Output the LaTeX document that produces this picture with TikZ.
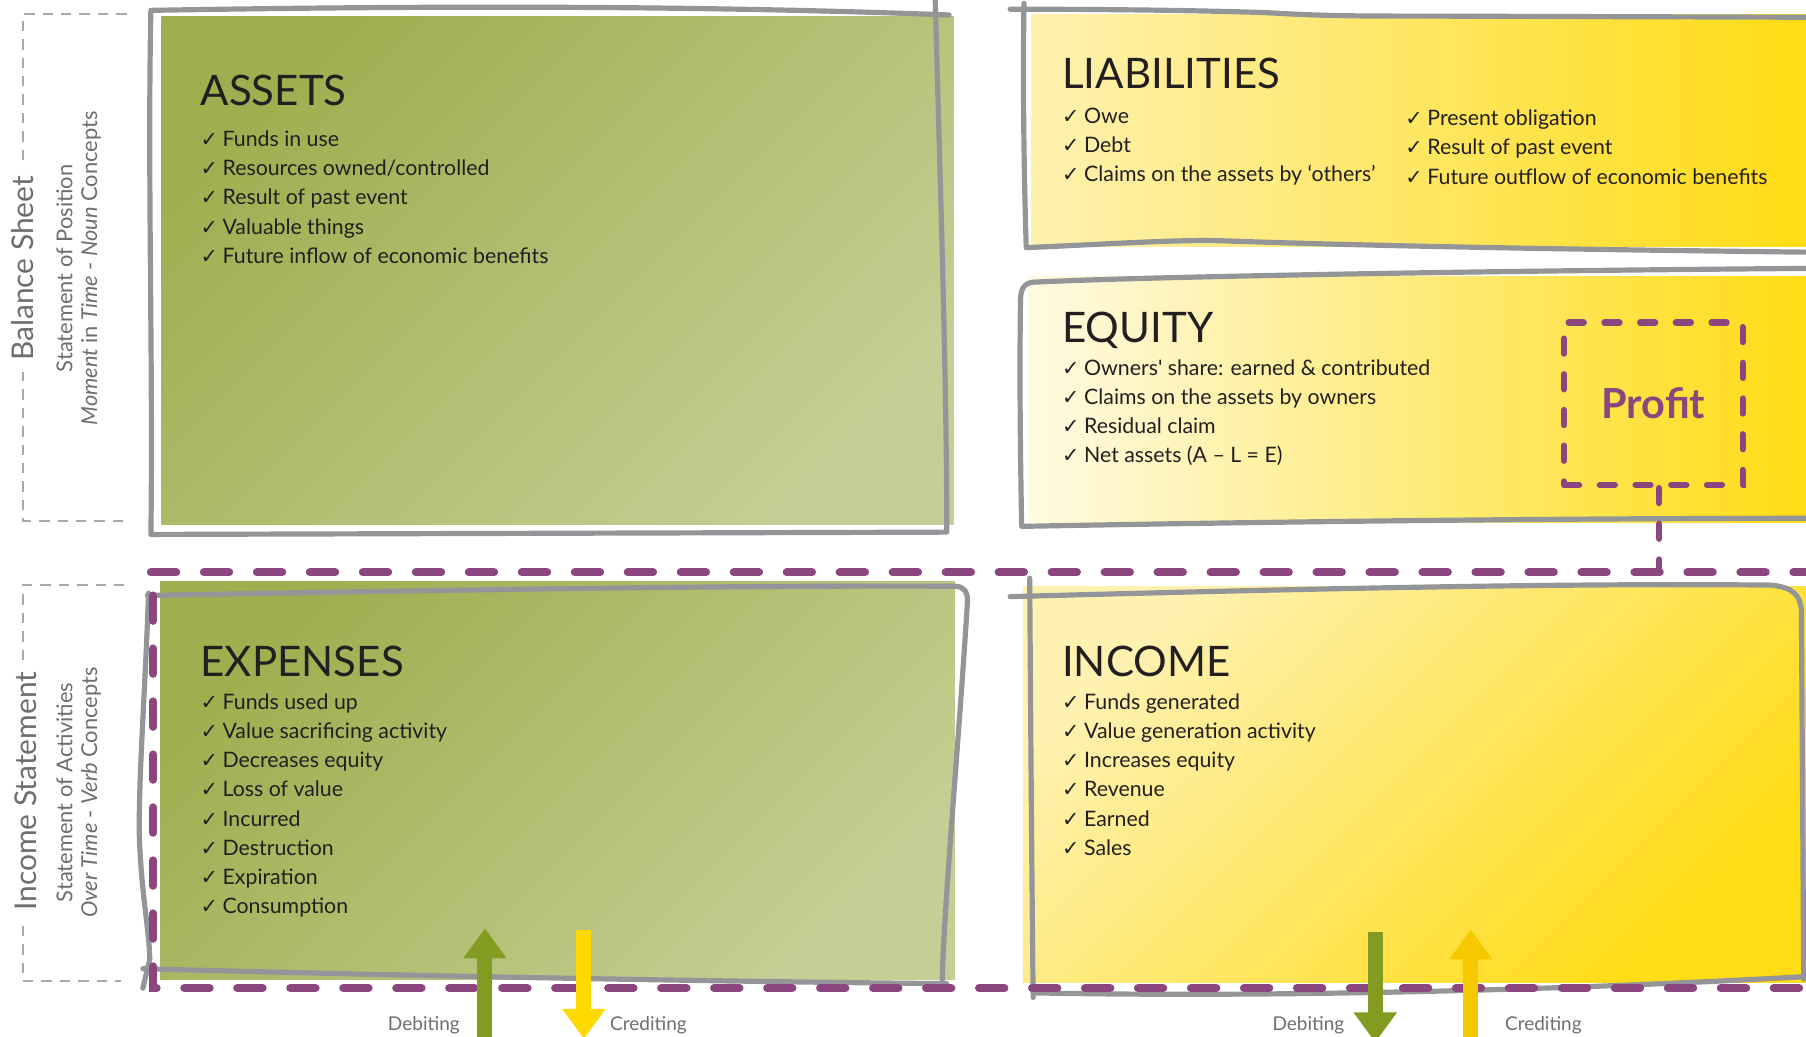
\documentclass[tikz,border=0pt]{standalone}
\usepackage{fontspec}
\setmainfont{Lato}
\newfontfamily\symfont{DejaVu Sans}
\usetikzlibrary{arrows.meta}
\definecolor{bordergray}{HTML}{939598}
\definecolor{labelgray}{HTML}{6D6E71}
\definecolor{dashgray}{HTML}{A7A9AC}
\definecolor{plum}{HTML}{8B4680}
\definecolor{inkdark}{HTML}{231F20}
\definecolor{olivedk}{HTML}{9FAF50}
\definecolor{olivelt}{HTML}{C5CE94}
\definecolor{yellowlt}{HTML}{FFF1B0}
\definecolor{yellowdk}{HTML}{FFDC14}
\definecolor{paleyellow}{HTML}{FFFAE3}
\definecolor{arrgreen}{HTML}{849B22}
\definecolor{arryellow}{HTML}{FFDA00}
\definecolor{arrgold}{HTML}{F5C800}

\newcommand{\tick}{{\symfont\fontsize{18}{18}\selectfont ✓}\hspace{4pt}}

\begin{document}
\begin{tikzpicture}[
  x=1pt, y=-1pt,
  sketch/.style={draw=bordergray, line width=4.5pt, line cap=round, line join=round},
  bracket/.style={draw=dashgray, line width=1.8pt, dash pattern=on 9pt off 7pt},
  sidehead/.style={rotate=90, fill=white, text=labelgray,
    font=\fontsize{26}{26}\selectfont, inner xsep=10pt, inner ysep=2pt},
  sidesub/.style={rotate=90, text=labelgray, font=\fontsize{19}{19}\selectfont, inner sep=0pt},
  boxtitle/.style={anchor=base west, inner sep=0pt, text=inkdark,
    font=\fontsize{36.5}{37}\selectfont},
  item/.style={anchor=base west, inner sep=0pt, text=inkdark,
    font=\fontsize{18.5}{22}\selectfont},
  plumline/.style={draw=plum, line width=7pt, line cap=round, dash pattern=on 22pt off 24pt},
  plumbox/.style={draw=plum, line width=5.5pt, line cap=round, dash pattern=on 13pt off 18pt},
  flow/.style={line width=13pt, -{Triangle[length=26pt, width=36pt]}},
  flowlbl/.style={text=labelgray, font=\fontsize{16.5}{17}\selectfont},
]
\useasboundingbox (0,0) rectangle (1568,900);

% =============================================
% Side brackets
% =============================================
\draw[bracket] (110,12) -- (20,12) -- (20,452) -- (110,452);
\draw[bracket] (108,508) -- (20,508) -- (20,852) -- (105,852);

\node[sidehead] (bs-head) at (20,233) {Balance Sheet};
\node[sidesub] (bs-sub) at (56,233) {Statement of Position};
\node[sidesub] (bs-note) at (79,233)
  {\itshape Moment \upshape in \itshape Time \upshape - \itshape Noun \upshape Concepts};

\node[sidehead] (is-head) at (22,687) {Income Statement};
\node[sidesub] (is-sub) at (56,688) {Statement of Activities};
\node[sidesub] (is-note) at (79,688)
  {\itshape Over Time \upshape - \itshape Verb \upshape Concepts};

% =============================================
% Assets
% =============================================
\shade[top color=olivedk, bottom color=olivelt, shading angle=45] (140,14) rectangle (828,455);
\draw[sketch] (812,0) .. controls (816,150) and (822,330) .. (822,462)
  -- (131,464) .. controls (133,320) and (128,150) .. (131,9)
  .. controls (420,4) and (640,6) .. (824,13);

\node[boxtitle] (assets-title) at (174,92) {ASSETS};
\foreach \txt [count=\i] in {Funds in use, Resources owned/controlled,
    Result of past event, Valuable things, Future inflow of economic benefits}
  \node[item] (asset-\i) at (174,101.6+25.4*\i) {\tick\txt};

% =============================================
% Liabilities
% =============================================
\shade[left color=yellowlt, right color=yellowdk] (895,13) rectangle (1568,214);
\draw[sketch] (877,8) .. controls (960,8) and (1040,9) .. (1100,11)
  .. controls (1150,14) and (1180,14) .. (1250,14) -- (1575,15);
\draw[sketch] (889,3) .. controls (888,80) and (889,150) .. (891,215)
  .. controls (960,212) and (1020,208) .. (1060,209)
  .. controls (1200,214) and (1400,217) .. (1575,219);

\node[boxtitle] (liab-title) at (922,77) {LIABILITIES};
\foreach \txt [count=\i] in {Owe, Debt, Claims on the assets by ‘others’}
  \node[item] (liab-l-\i) at (922,81.5+25.5*\i) {\tick\txt};
\foreach \txt [count=\i] in {Present obligation, Result of past event,
    Future outflow of economic benefits}
  \node[item] (liab-r-\i) at (1220,83.5+25.5*\i) {\tick\txt};

% =============================================
% Equity
% =============================================
\shade[left color=paleyellow, right color=yellowdk] (893,240) rectangle (1568,454);
\draw[sketch] (1575,233) .. controls (1300,235) and (1000,240) .. (897,245)
  .. controls (888,246) and (886,252) .. (886,262)
  .. controls (885,330) and (886,400) .. (887,457)
  .. controls (1100,453) and (1350,450) .. (1575,450);

\node[boxtitle] (equity-title) at (922,297) {EQUITY};
\foreach \txt [count=\i] in {Owners\textquotesingle{} share: earned \& contributed,
    Claims on the assets by owners, Residual claim, Net assets (A – L = E)}
  \node[item] (equity-\i) at (922,300.7+25.3*\i) {\tick\txt};

\node[plumbox, minimum width=155pt, minimum height=141pt, text=plum,
      font=\bfseries\fontsize{36}{36}\selectfont]
  (profit) at (1435.5,350.5) {Profit};

% =============================================
% Expenses
% =============================================
\shade[top color=olivedk, bottom color=olivelt, shading angle=45] (139,505) rectangle (829,850);
\draw[sketch] (128,517) .. controls (400,512) and (650,508) .. (830,509)
  .. controls (838,510) and (840,514) .. (840,522)
  .. controls (832,650) and (820,780) .. (818,851);
\draw[sketch] (129,515) .. controls (126,600) and (120,680) .. (121,727)
  .. controls (123,780) and (130,810) .. (130,833) -- (124,858);
\draw[sketch] (124,841) .. controls (300,846) and (600,852) .. (822,854);

\node[boxtitle] (exp-title) at (174,587) {EXPENSES};
\foreach \txt [count=\i] in {Funds used up, Value sacrificing activity,
    Decreases equity, Loss of value, Incurred, Destruction, Expiration, Consumption}
  \node[item] (exp-\i) at (174,590.7+25.3*\i) {\tick\txt};

% =============================================
% Income
% =============================================
\shade[top color=yellowlt, bottom color=yellowdk, shading angle=45] (888,509) rectangle (1568,853);
\draw[sketch] (877,518) .. controls (1100,512) and (1350,506) .. (1538,508)
  .. controls (1556,510) and (1563,516) .. (1564,530) -- (1566,850);
\draw[sketch] (894,502) .. controls (895,650) and (896,780) .. (897,866);
\draw[sketch] (897,862) .. controls (1100,866) and (1350,860) .. (1566,848);

\node[boxtitle] (inc-title) at (922,587) {INCOME};
\foreach \txt [count=\i] in {Funds generated, Value generation activity,
    Increases equity, Revenue, Earned, Sales}
  \node[item] (inc-\i) at (922,590.7+25.3*\i) {\tick\txt};

% =============================================
% Dashed frame and profit link
% =============================================
\coordinate (split-west) at (131,497);
\coordinate (split-east) at (1590,497);
\draw[plumline] (split-west) -- (split-east);
\draw[plumline] (133,517) -- (133,858) -- (1590,858);
\draw[plumbox] ([xshift=5pt]profit.south) -- ([xshift=5pt]profit.south |- split-east);

% =============================================
% Debit / credit arrows
% =============================================
\coordinate (exp-deb-foot) at (421,910);
\coordinate (exp-deb-tip) at (421,806);
\coordinate (exp-cr-top) at (507,807);
\coordinate (exp-cr-tip) at (507,902);
\coordinate (inc-deb-top) at (1194,809);
\coordinate (inc-deb-tip) at (1194,905);
\coordinate (inc-cr-foot) at (1277,910);
\coordinate (inc-cr-tip) at (1277,807);

\draw[flow, arrgreen] (exp-deb-foot) -- (exp-deb-tip);
\draw[flow, arryellow] (exp-cr-top) -- (exp-cr-tip);
\draw[flow, arrgreen] (inc-deb-top) -- (inc-deb-tip);
\draw[flow, arrgold] (inc-cr-foot) -- (inc-cr-tip);

\node[flowlbl] (exp-deb-lbl) at (368,890) {Debiting};
\node[flowlbl] (exp-cr-lbl) at (563,890) {Crediting};
\node[flowlbl] (inc-deb-lbl) at (1136,890) {Debiting};
\node[flowlbl] (inc-cr-lbl) at (1340,890) {Crediting};

\end{tikzpicture}
\end{document}
